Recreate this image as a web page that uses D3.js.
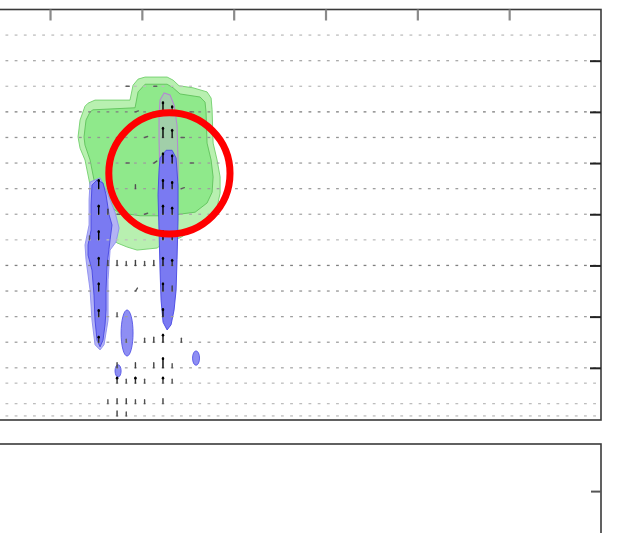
<!DOCTYPE html>
<html>
<head>
<meta charset="utf-8">
<script src="https://cdn.jsdelivr.net/npm/d3@7"></script>
<style>
  html, body { margin: 0; padding: 0; background: #fff; overflow: hidden; }
  svg { display: block; }
</style>
</head>
<body>
<svg id="chart" width="625" height="533"></svg>
<script>
// ---- data ---------------------------------------------------------------
// vertical levels of the wind field (rows of vectors)
const levels = [7.5, 7, 6.5, 6, 5.5, 5, 4.5, 4, 3.5, 3, 2.5, 2, 1.5, 1, 0.7, 0.3, 0.06];
// mean weak-wind speed on each level (shades the background marks)
const rowSpeed = [3, 4, 3, 6, 5, 4.5, 4.5, 4, 3, 6, 5, 4.5, 4.5, 4, 3, 3, 3];
// horizontal grid position of the first column and number of columns
const firstColumn = 0.3;
const columnCount = 70;

const xTicks = [10, 20, 30, 40, 50, 60];
const yTicks = [1, 2, 3, 4, 5, 6, 7];
const lowerTicks = [7];

// strong wind vectors: [x, level, u, v]
const strongVectors = [
  // western updraft column
  [15.3, 4.5, 0, 9], [15.3, 4, 0, 9], [15.3, 3.5, 0, 9], [15.3, 3, 0, 8],
  [15.3, 2.5, 0, 8], [15.3, 2, 0, 7], [15.3, 1.5, 0, 6], [16.3, 4, 0, 5],
  [16.3, 3, 0, 5], [14.3, 3.5, 0, 4],
  // eastern updraft column
  [22.3, 6, 0, 10], [22.3, 5.5, 0, 10], [22.3, 5, 0, 10], [22.3, 4.5, 0, 9],
  [22.3, 4, 0, 9], [22.3, 3.5, 0, 9], [22.3, 3, 0, 8], [22.3, 2.5, 0, 8],
  [22.3, 2, 0, 8], [22.3, 1.5, 0, 8], [22.3, 1, 0, 10], [22.3, 0.7, 0, 6],
  [23.3, 6, 0, 6], [23.3, 5.5, 0, 8], [23.3, 5, 0, 8], [23.3, 4.5, 0, 7],
  [23.3, 4, 0, 7], [23.3, 3.5, 0, 7], [23.3, 3, 0, 6], [23.3, 2.5, 0, 5],
  // flow inside the anvil
  [17.3, 5.5, 3, 2], [18.3, 5, 3, 0], [19.3, 6, 3, 1], [20.3, 5.5, 3, 1],
  [21.3, 5, 3, 2], [24.3, 5.5, 3, 0], [25.3, 5, 3, 0], [24.3, 4.5, 3, 1],
  [19.3, 4.5, 0, 4], [20.3, 4, 3, 1], [17.3, 4, 3, 0], [25.3, 6, 3, 0],
  [18.3, 6.5, 3, 0], [21.3, 6.5, 3, 0],
  // low-level inflow below the cloud
  [17.3, 3, 0, 5], [18.3, 3, 0, 4], [19.3, 3, 0, 5], [20.3, 3, 0, 4],
  [21.3, 3, 0, 5], [19.3, 2.5, 2, 3], [17.3, 2, 0, 4], [18.3, 1.5, 0, 3],
  [20.3, 1.5, 0, 4], [21.3, 1.5, 0, 5], [24.3, 1.5, 0, 4],
  [17.3, 1, 0, 5], [19.3, 1, 0, 5], [21.3, 1, 0, 5], [23.3, 1, 0, 4],
  [17.3, 0.7, 0, 6], [18.3, 0.7, 0, 4], [19.3, 0.7, 0, 6], [20.3, 0.7, 0, 4],
  [23.3, 0.7, 0, 4], [16.3, 0.3, 0, 4], [17.3, 0.3, 0, 5], [18.3, 0.3, 0, 5],
  [19.3, 0.3, 0, 4], [20.3, 0.3, 0, 4], [22.3, 0.3, 0, 5],
  [17.3, 0.06, 0, 5], [18.3, 0.06, 0, 4]
];

// cloud-water contours (x, level)
const cloudOuter = [
  [14.14, 6.17], [14.90, 6.23], [18.71, 6.23], [19.04, 6.52], [19.59, 6.64],
  [20.35, 6.68], [22.75, 6.68], [23.40, 6.62], [24.05, 6.51], [25.58, 6.47],
  [27.10, 6.39], [27.54, 6.27], [27.65, 6.04], [27.76, 5.39], [28.19, 5.06],
  [28.52, 4.73], [28.52, 4.41], [28.19, 4.14], [27.43, 3.95], [25.58, 3.69],
  [24.16, 3.54], [22.53, 3.46], [21.66, 3.34], [19.48, 3.30], [18.39, 3.36],
  [17.30, 3.44], [16.54, 3.56], [15.45, 3.79], [14.68, 4.18], [14.36, 4.57],
  [13.81, 5.06], [13.27, 5.29], [13.05, 5.51], [13.27, 5.84], [13.81, 6.11]
];
const cloudInner = [
  [14.68, 6.04], [19.26, 6.08], [19.59, 6.39], [20.35, 6.54], [22.75, 6.54],
  [23.40, 6.47], [24.16, 6.35], [26.34, 6.29], [26.88, 6.19], [26.99, 6.00],
  [27.10, 5.39], [27.54, 5.06], [27.76, 4.73], [27.65, 4.43], [27.10, 4.22],
  [25.80, 4.04], [23.62, 3.99], [21.98, 3.97], [19.80, 3.97], [18.71, 4.00],
  [17.41, 4.04], [16.32, 4.18], [15.45, 4.38], [14.90, 4.57], [14.36, 5.06],
  [13.81, 5.35], [13.70, 5.51], [13.92, 5.84], [14.36, 6.00]
];

// rain-water contours (x, level)
const rainWestOuter = [
  [14.36, 4.63], [15.45, 4.71], [16.32, 4.38], [17.08, 4.04], [17.52, 3.73],
  [17.19, 3.46], [16.54, 3.30], [16.32, 2.72], [16.32, 1.93], [15.88, 1.45],
  [15.45, 1.35], [14.90, 1.45], [14.57, 1.93], [14.36, 2.52], [13.92, 3.11],
  [13.81, 3.40], [14.25, 3.79], [14.25, 4.28]
];
const rainWest = [
  [14.57, 4.57], [15.12, 4.67], [15.77, 4.61], [16.10, 4.38], [16.43, 3.99],
  [16.75, 3.79], [16.54, 3.50], [16.21, 3.01], [16.10, 2.52], [16.10, 2.13],
  [15.99, 1.84], [15.77, 1.54], [15.45, 1.41], [15.12, 1.54], [14.90, 1.93],
  [14.79, 2.42], [14.57, 2.91], [14.14, 3.20], [14.14, 3.40], [14.47, 3.69],
  [14.47, 4.18]
];
const iceEast = [
  [21.98, 6.23], [22.42, 6.37], [23.07, 6.33], [23.51, 6.13], [23.83, 5.74],
  [23.94, 5.06], [23.94, 4.67], [21.98, 4.67], [21.87, 5.45], [21.87, 5.94]
];
const rainEast = [
  [21.98, 5.10], [22.64, 5.25], [23.29, 5.25], [23.73, 5.10], [23.94, 4.57],
  [23.94, 3.89], [23.83, 3.11], [23.73, 2.52], [23.51, 2.13], [23.18, 1.84],
  [22.75, 1.74], [22.31, 1.89], [22.09, 2.32], [21.98, 2.91], [21.87, 3.69],
  [21.76, 4.38], [21.87, 4.86]
];
// small isolated rain cells: centre x, centre level, half-width, half-height
const rainCells = [
  [18.39, 1.68, 0.65, 0.45],
  [17.41, 0.94, 0.33, 0.12],
  [25.90, 1.19, 0.38, 0.14]
];

// highlighted updraft core: centre x, centre level, radius (x units)
const highlight = [23.0, 4.8, 6.6];

// ---- drawing --------------------------------------------------------------
const svg = d3.select("#chart");

const x = d3.scaleLinear().domain([0, 70]).range([-41.8, 601]);
const y = d3.scaleLinear().domain([0, 8]).range([419, 9.5]);
const y2 = d3.scaleLinear().domain([0, 10]).range([601, 444]);

const shade = d3.scaleLinear().domain([2, 7]).range(["#d2d2d2", "#6a6a6a"]).clamp(true);
const vecShade = d3.scaleLinear().domain([2, 9]).range(["#707070", "#000000"]).clamp(true);

const plot = svg.append("g");

const poly = d3.line().x(d => x(d[0])).y(d => y(d[1])).curve(d3.curveLinearClosed);

// cloud water
plot.append("path").attr("d", poly(cloudOuter))
  .attr("fill", "#b8f0b0").attr("stroke", "#72cf6c").attr("stroke-width", 0.9);
plot.append("path").attr("d", poly(cloudInner))
  .attr("fill", "#8fe98b").attr("stroke", "#5fc25a").attr("stroke-width", 0.9);

// ice / rain
plot.append("path").attr("d", poly(iceEast))
  .attr("fill", "rgba(196,160,226,0.35)").attr("stroke", "#b38ad0").attr("stroke-width", 1.1);
plot.append("path").attr("d", poly(rainWestOuter))
  .attr("fill", "#b3b3f4").attr("stroke", "#8c8cf0").attr("stroke-width", 0.9);
plot.append("path").attr("d", poly(rainWest))
  .attr("fill", "#7a7af2").attr("stroke", "#4646e2").attr("stroke-width", 0.9);
plot.append("path").attr("d", poly(rainEast))
  .attr("fill", "#7a7af2").attr("stroke", "#4646e2").attr("stroke-width", 0.9);
plot.selectAll("ellipse.cell").data(rainCells).join("ellipse")
  .attr("class", "cell")
  .attr("cx", d => x(d[0])).attr("cy", d => y(d[1]))
  .attr("rx", d => x(d[2]) - x(0)).attr("ry", d => y(0) - y(d[3]))
  .attr("fill", "#8e8ef3").attr("stroke", "#5555e6").attr("stroke-width", 0.9);

// weak background wind marks on every grid node
const columns = d3.range(columnCount).map(i => firstColumn + i);
const nodes = [];
levels.forEach((lv, i) => columns.forEach(c => nodes.push({c, lv, s: rowSpeed[i]})));
plot.append("g").selectAll("line").data(nodes).join("line")
  .attr("x1", d => x(d.c) - 1.4).attr("x2", d => x(d.c) + 1.4)
  .attr("y1", d => y(d.lv)).attr("y2", d => y(d.lv))
  .attr("stroke", d => shade(d.s)).attr("stroke-width", 1.3);

// strong wind vectors
const vg = plot.append("g");
vg.selectAll("line").data(strongVectors).join("line")
  .attr("x1", d => x(d[0])).attr("y1", d => y(d[1]))
  .attr("x2", d => x(d[0]) + d[2]).attr("y2", d => y(d[1]) - d[3])
  .attr("stroke", d => vecShade(Math.hypot(d[2], d[3])))
  .attr("stroke-width", 1.4).attr("stroke-linecap", "round");
vg.selectAll("circle").data(strongVectors.filter(d => Math.hypot(d[2], d[3]) >= 6)).join("circle")
  .attr("cx", d => x(d[0]) + d[2]).attr("cy", d => y(d[1]) - d[3] + 1)
  .attr("r", 1.3).attr("fill", "#000");

// upper panel frame and ticks
svg.append("rect")
  .attr("x", x(0)).attr("y", y(8))
  .attr("width", x(70) - x(0)).attr("height", y(0) + 1 - y(8))
  .attr("fill", "none").attr("stroke", "#3a3a3a").attr("stroke-width", 1.6);

const topAxis = svg.append("g").attr("transform", `translate(0,${y(8)})`)
  .call(d3.axisTop(x).tickValues(xTicks).tickSize(-11).tickFormat(""));
topAxis.select(".domain").remove();
topAxis.selectAll("line").attr("stroke", "#8a8a8a").attr("stroke-width", 2.2);

const rightAxis = svg.append("g").attr("transform", `translate(${x(70)},0)`)
  .call(d3.axisRight(y).tickValues(yTicks).tickSize(-11).tickFormat(""));
rightAxis.select(".domain").remove();
rightAxis.selectAll("line").attr("stroke", "#222").attr("stroke-width", 2);

// lower panel
svg.append("rect")
  .attr("x", x(0)).attr("y", y2(10))
  .attr("width", x(70) - x(0)).attr("height", 200)
  .attr("fill", "none").attr("stroke", "#3a3a3a").attr("stroke-width", 1.6);
const lowerAxis = svg.append("g").attr("transform", `translate(${x(70)},0)`)
  .call(d3.axisRight(y2).tickValues(lowerTicks).tickSize(-10).tickFormat(""));
lowerAxis.select(".domain").remove();
lowerAxis.selectAll("line").attr("stroke", "#555").attr("stroke-width", 2);

// highlight ring
svg.append("circle")
  .attr("cx", x(highlight[0])).attr("cy", y(highlight[1]))
  .attr("r", x(highlight[2]) - x(0))
  .attr("fill", "none").attr("stroke", "#ff0000").attr("stroke-width", 7);
</script>
</body>
</html>
